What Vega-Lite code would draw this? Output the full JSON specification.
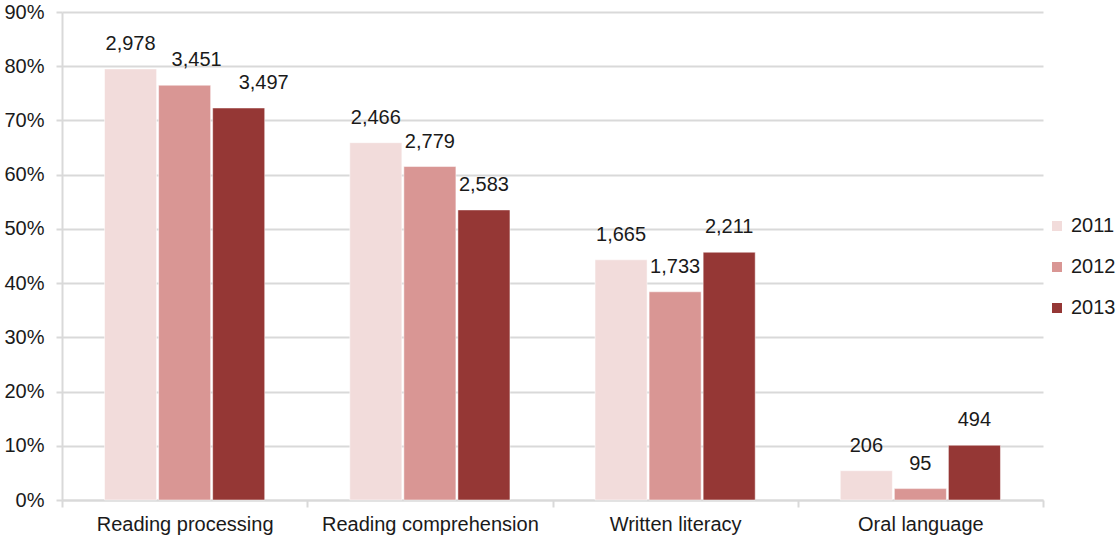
{
  "$schema": "https://vega.github.io/schema/vega-lite/v6.json",
  "width": 981,
  "height": 488,
  "autosize": "none",
  "padding": {"left": 62, "top": 12, "right": 75, "bottom": 39},
  "background": "white",
  "config": {
    "view": {"stroke": null},
    "font": "Liberation Sans",
    "axis": {
      "labelFont": "Liberation Sans",
      "labelFontSize": 20,
      "labelColor": "#1a1a1a",
      "labelLimit": 400,
      "labelOverlap": false,
      "domainColor": "#d9d9d9",
      "domainWidth": 2,
      "tickColor": "#d9d9d9",
      "tickWidth": 2,
      "gridColor": "#d9d9d9",
      "gridWidth": 2,
      "title": null
    },
    "legend": {
      "labelFont": "Liberation Sans",
      "labelFontSize": 20,
      "labelColor": "#1a1a1a"
    }
  },
  "data": {
    "values": [
      {"category": "Reading processing", "year": "2011", "share": 0.795, "n": 2978},
      {"category": "Reading processing", "year": "2012", "share": 0.765, "n": 3451},
      {"category": "Reading processing", "year": "2013", "share": 0.723, "n": 3497},
      {"category": "Reading comprehension", "year": "2011", "share": 0.659, "n": 2466},
      {"category": "Reading comprehension", "year": "2012", "share": 0.615, "n": 2779},
      {"category": "Reading comprehension", "year": "2013", "share": 0.535, "n": 2583},
      {"category": "Written literacy", "year": "2011", "share": 0.443, "n": 1665},
      {"category": "Written literacy", "year": "2012", "share": 0.384, "n": 1733},
      {"category": "Written literacy", "year": "2013", "share": 0.457, "n": 2211},
      {"category": "Oral language", "year": "2011", "share": 0.054, "n": 206},
      {"category": "Oral language", "year": "2012", "share": 0.021, "n": 95},
      {"category": "Oral language", "year": "2013", "share": 0.101, "n": 494}
    ]
  },
  "encoding": {
    "x": {
      "field": "category",
      "type": "nominal",
      "sort": null,
      "scale": {"paddingInner": 0, "paddingOuter": 0},
      "axis": {"labelAngle": 0, "tickBand": "extent", "tickSize": 7, "labelPadding": 7}
    },
    "xOffset": {
      "field": "year",
      "type": "nominal",
      "scale": {"paddingInner": 0.037, "paddingOuter": 0.787}
    },
    "y": {
      "field": "share",
      "type": "quantitative",
      "scale": {"domain": [0, 0.9]},
      "axis": {"format": ".0%", "values": [0, 0.1, 0.2, 0.3, 0.4, 0.5, 0.6, 0.7, 0.8, 0.9], "tickSize": 6, "labelPadding": 12}
    }
  },
  "layer": [
    {
      "mark": {"type": "bar", "stroke": "white", "strokeWidth": 0.5},
      "encoding": {
        "color": {
          "field": "year",
          "type": "nominal",
          "scale": {"domain": ["2011", "2012", "2013"], "range": ["#f2dcdb", "#d99694", "#953735"]},
          "legend": {
            "title": null,
            "orient": "none",
            "legendX": 985,
            "legendY": 204,
            "symbolType": "square",
            "symbolSize": 100,
            "symbolStrokeWidth": 0,
            "rowPadding": 21,
            "labelOffset": 4
          }
        }
      }
    },
    {
      "transform": [{"filter": "!(datum.category === 'Reading processing' && datum.year !== '2011')"}],
      "mark": {"type": "text", "baseline": "middle", "dy": -25, "fontSize": 20, "color": "#1a1a1a"},
      "encoding": {"text": {"field": "n", "type": "quantitative", "format": ",d"}}
    },
    {
      "transform": [{"filter": "datum.category === 'Reading processing' && datum.year === '2012'"}],
      "mark": {"type": "text", "baseline": "middle", "dy": -25, "dx": 12, "fontSize": 20, "color": "#1a1a1a"},
      "encoding": {"text": {"field": "n", "type": "quantitative", "format": ",d"}}
    },
    {
      "transform": [{"filter": "datum.category === 'Reading processing' && datum.year === '2013'"}],
      "mark": {"type": "text", "baseline": "middle", "dy": -25, "dx": 25, "fontSize": 20, "color": "#1a1a1a"},
      "encoding": {"text": {"field": "n", "type": "quantitative", "format": ",d"}}
    }
  ]
}
